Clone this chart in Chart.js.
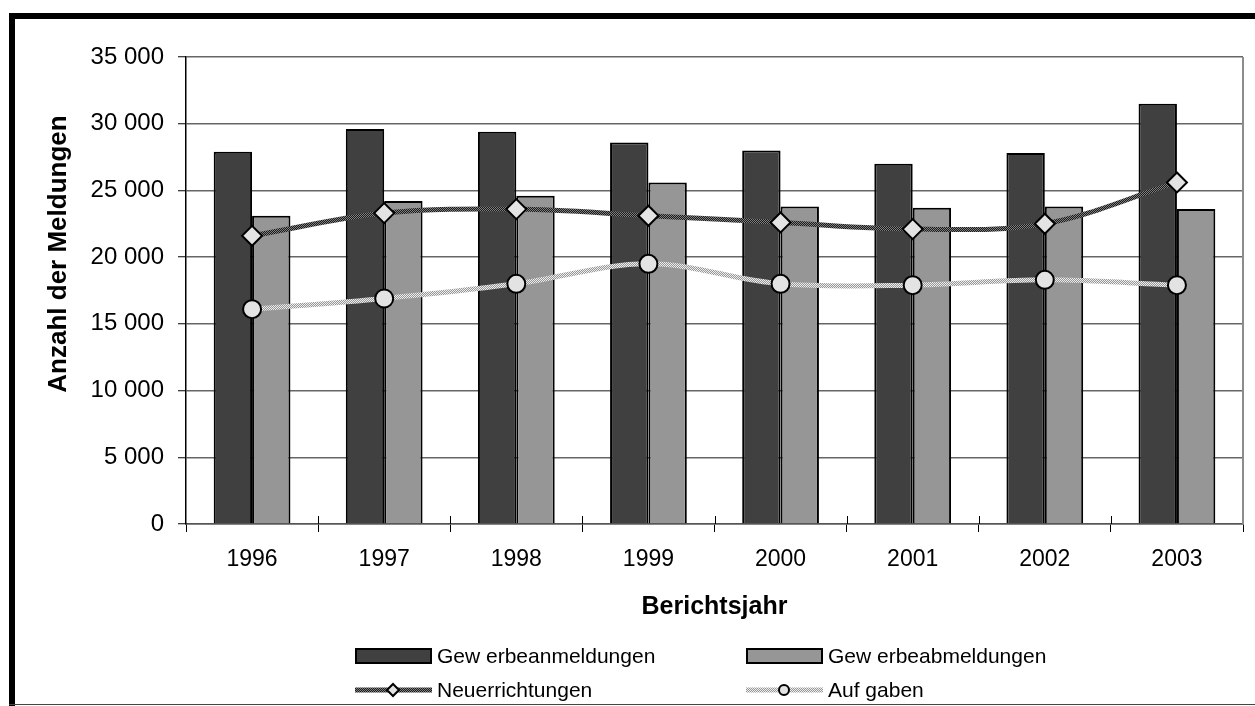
<!DOCTYPE html>
<html>
<head>
<meta charset="utf-8">
<script src="https://cdn.jsdelivr.net/npm/chart.js@4.4.1/dist/chart.umd.min.js"></script>
<style>
  html, body { margin: 0; padding: 0; background: #fff; }
  canvas { display: block; }
</style>
</head>
<body>
<canvas id="meldungenChart" width="1255" height="706"></canvas>
<script>
// Werte
const jahre = ['1996', '1997', '1998', '1999', '2000', '2001', '2002', '2003'];
const gewerbeanmeldungen = [27900, 29600, 29400, 28600, 28000, 27000, 27800, 31500];
const gewerbeabmeldungen = [23100, 24200, 24600, 25600, 23800, 23700, 23800, 23600];
const neuerrichtungen = [21600, 23300, 23600, 23100, 22600, 22100, 22500, 25600];
const aufgaben = [16100, 16900, 18000, 19500, 18000, 17900, 18300, 17900];
const yTicks = [0, 5000, 10000, 15000, 20000, 25000, 30000, 35000];

const FONT = '"Liberation Sans", Arial, sans-serif';

// kleines Schachbrettmuster fuer die "gestrickten" Excel-Linien
const makePattern = (c1, c2) => {
    const p = document.createElement('canvas');
    p.width = 2; p.height = 2;
    const pc = p.getContext('2d');
    pc.fillStyle = c1; pc.fillRect(0, 0, 2, 2);
    pc.fillStyle = c2; pc.fillRect(0, 0, 1, 1); pc.fillRect(1, 1, 1, 1);
    return pc.createPattern(p, 'repeat');
};

const darkLine = makePattern('#1a1a1a', '#808080');
const lightLine = makePattern('#969696', '#eeeeee');

const fmt = v => String(v).replace(/\B(?=(\d{3})+(?!\d))/g, ' ');

const rahmenPlugin = {
    id: 'rahmen',
    beforeDraw(chart) {
        const ctx = chart.ctx;
        ctx.save();
        ctx.fillStyle = '#fff';
        ctx.fillRect(0, 0, chart.width, chart.height);
        ctx.fillStyle = '#000';
        ctx.fillRect(9, 13, 6, chart.height - 13);
        ctx.fillRect(9, 13, chart.width - 9, 6);
        ctx.fillStyle = '#444';
        ctx.fillRect(9, 704, chart.width - 9, 1);
        ctx.restore();
    },
    afterDraw(chart) {
        const { ctx, chartArea } = chart;
        const xs = chart.scales.x;

        ctx.save();
        // rechte Kante der Zeichenflaeche
        ctx.strokeStyle = '#8c8c8c';
        ctx.lineWidth = 2;
        ctx.beginPath();
        ctx.moveTo(chartArea.right, chartArea.top);
        ctx.lineTo(chartArea.right, chartArea.bottom);
        ctx.stroke();

        // Excel-Teilstriche kreuzen die x-Achse
        ctx.strokeStyle = '#000';
        ctx.lineWidth = 1;
        for (let i = 1; i < jahre.length; i++) {
            const px = Math.round((xs.getPixelForValue(i - 1) + xs.getPixelForValue(i)) / 2) + 0.5;
            ctx.beginPath();
            ctx.moveTo(px, chartArea.bottom - 8);
            ctx.lineTo(px, chartArea.bottom);
            ctx.stroke();
        }

        // y-Achsentitel
        ctx.font = 'bold 26px ' + FONT;
        ctx.fillStyle = '#000';
        ctx.textAlign = 'center';
        ctx.textBaseline = 'middle';
        ctx.translate(59, 254);
        ctx.rotate(-Math.PI / 2);
        ctx.fillText('Anzahl der Meldungen', 0, 0);
        ctx.restore();

        // Legende, 2 Spalten x 2 Zeilen
        const spalten = [355, 746];
        const zeilen = [656, 690];
        chart.data.datasets.forEach((ds, i) => {
            const x = spalten[i % 2];
            const y = zeilen[Math.floor(i / 2)];
            ctx.save();
            if (ds.type === 'line') {
                ctx.strokeStyle = ds.borderColor;
                ctx.lineWidth = 5;
                ctx.beginPath();
                ctx.moveTo(x, y);
                ctx.lineTo(x + 77, y);
                ctx.stroke();
                ctx.fillStyle = ds.pointBackgroundColor;
                ctx.strokeStyle = '#000';
                ctx.lineWidth = 2;
                const r = ds.pointStyle === 'circle' ? 5 : 6;
                Chart.helpers.drawPoint(ctx, { pointStyle: ds.pointStyle, radius: r, borderWidth: 2, rotation: 0 }, x + 38, y);
            } else {
                ctx.fillStyle = ds.backgroundColor;
                ctx.fillRect(x, y - 8, 77, 16);
                ctx.strokeStyle = '#000';
                ctx.lineWidth = 2;
                ctx.strokeRect(x + 1, y - 7, 75, 14);
            }
            ctx.font = '21px ' + FONT;
            ctx.fillStyle = '#000';
            ctx.textAlign = 'left';
            ctx.textBaseline = 'middle';
            ctx.fillText(ds.label, x + 82, y + 1);
            ctx.restore();
        });
    }
};

const ctx = document.getElementById('meldungenChart');

new Chart(ctx, {
    type: 'bar',
    data: {
        labels: jahre,
        datasets: [
            {
                label: 'Gew erbeanmeldungen',
                data: gewerbeanmeldungen,
                backgroundColor: '#404040',
                borderColor: '#000',
                borderWidth: 2,
                borderSkipped: 'bottom',
                order: 2
            },
            {
                label: 'Gew erbeabmeldungen',
                data: gewerbeabmeldungen,
                backgroundColor: '#969696',
                borderColor: '#000',
                borderWidth: 2,
                borderSkipped: 'bottom',
                order: 2
            },
            {
                type: 'line',
                label: 'Neuerrichtungen',
                data: neuerrichtungen,
                borderColor: darkLine,
                borderWidth: 5,
                tension: 0.35,
                pointStyle: 'rectRot',
                pointRadius: 10,
                pointBorderWidth: 2,
                pointBorderColor: '#000',
                pointBackgroundColor: '#e3e3e3',
                order: 0
            },
            {
                type: 'line',
                label: 'Auf gaben',
                data: aufgaben,
                borderColor: lightLine,
                borderWidth: 5,
                tension: 0.35,
                pointStyle: 'circle',
                pointRadius: 9,
                pointBorderWidth: 2,
                pointBorderColor: '#000',
                pointBackgroundColor: '#e3e3e3',
                order: 1
            }
        ]
    },
    options: {
        responsive: false,
        animation: false,
        devicePixelRatio: 1,
        layout: { padding: { top: 57, right: 9, left: 0, bottom: 0 } },
        datasets: {
            bar: { barPercentage: 1, categoryPercentage: 0.581 }
        },
        scales: {
            x: {
                offset: true,
                grid: { offset: true, drawOnChartArea: false, drawTicks: true, tickLength: 8, color: '#000', lineWidth: 1 },
                border: { color: '#555', width: 1.5 },
                ticks: { color: '#000', font: { size: 23, family: FONT }, padding: 14, autoSkip: false, maxRotation: 0 },
                title: {
                    display: true,
                    text: 'Berichtsjahr',
                    color: '#000',
                    font: { size: 25, weight: 'bold', family: FONT },
                    padding: { top: 84, bottom: 84 }
                },
                afterFit(scale) { scale.height = 182; }
            },
            y: {
                min: 0,
                max: 35000,
                afterBuildTicks(scale) { scale.ticks = yTicks.map(v => ({ value: v })); },
                ticks: { color: '#000', font: { size: 24, family: FONT }, padding: 14, callback: v => fmt(v) },
                grid: { color: '#666', lineWidth: 1.5, tickLength: 8, tickColor: '#000', tickWidth: 1 },
                border: { color: '#000', width: 1.5 },
                afterFit(scale) { scale.width = 186; }
            }
        },
        plugins: {
            legend: { display: false },
            tooltip: { enabled: false }
        }
    },
    plugins: [rahmenPlugin]
});
</script>
</body>
</html>
